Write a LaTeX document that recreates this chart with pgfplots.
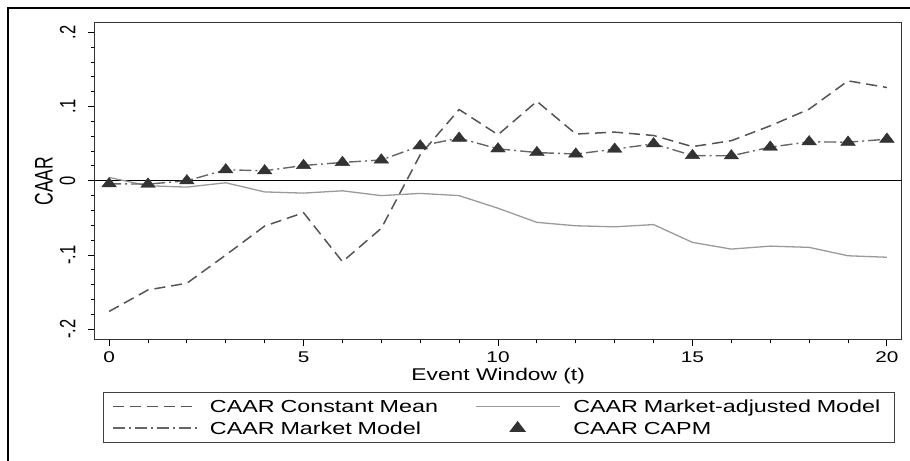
\documentclass[border=0pt]{standalone}
\usepackage{graphicx}
\usepackage{pgfplots}
\pgfplotsset{compat=1.18}
\usepackage{fontspec}
\setmainfont{Liberation Sans}[FakeStretch=1.34]
\newfontfamily\rotfont{Liberation Sans}
\newcommand\rs[1]{\scalebox{1}[1.34]{\rotfont #1}}
\definecolor{cmgray}{HTML}{555555}
\definecolor{mmgray}{HTML}{666666}
\definecolor{magray}{HTML}{9A9A9A}
\definecolor{trigray}{HTML}{333333}

\pgfplotsset{
  mylinelegend/.style={legend image code/.code={\draw[mark repeat=2,mark phase=2,##1] plot coordinates {(0bp,0bp)(42bp,0bp)(84bp,0bp)};}},
  mytrilegend/.style={legend image code/.code={\draw[##1] plot coordinates {(42bp,0bp)};}},
}

\pgfplotstableread{
t CM MM MA CAPM
0 -0.176 -0.004 0.0045 -0.004
1 -0.147 -0.0045 -0.0067 -0.0045
2 -0.138 0.000 -0.0085 0.000
3 -0.100 0.0148 -0.0027 0.0148
4 -0.061 0.0135 -0.015 0.0135
5 -0.043 0.0206 -0.0166 0.0206
6 -0.109 0.0247 -0.0135 0.0247
7 -0.064 0.028 -0.020 0.028
8 0.035 0.047 -0.017 0.047
9 0.096 0.0574 -0.020 0.0574
10 0.062 0.043 -0.037 0.043
11 0.107 0.038 -0.056 0.038
12 0.063 0.036 -0.0606 0.036
13 0.0655 0.0426 -0.062 0.0426
14 0.061 0.0498 -0.059 0.0498
15 0.046 0.034 -0.083 0.034
16 0.054 0.0336 -0.092 0.0336
17 0.074 0.0453 -0.088 0.0453
18 0.0965 0.0525 -0.0897 0.0525
19 0.1346 0.052 -0.101 0.052
20 0.1256 0.056 -0.103 0.056
}\datatable

\begin{document}
\fontsize{17bp}{20bp}\selectfont
\begin{tikzpicture}
\begin{axis}[
  scale only axis, width=807bp, height=316.3bp,
  at={(0,0)}, anchor=south west,
  xmin=-0.37, xmax=20.38, ymin=-0.2135, ymax=0.2125,
  xtick={0,5,10,15,20}, minor x tick num=4,
  ytick={-0.2,-0.1,0,0.1,0.2},
  yticklabels={\rs{-.2},\rs{-.1},\rs{0},\rs{.1},\rs{.2}},
  minor y tick num=4,
  xtick pos=lower, ytick pos=left,
  tick align=outside, major tick length=6.7bp, minor tick length=4bp,
  every tick/.style={black, line width=0.9bp},
  axis line style={black!80, line width=1bp},
  xticklabel style={/pgf/number format/assume math mode=true, font=\fontsize{15.5bp}{18bp}\selectfont, inner sep=0pt, anchor=north, yshift=-5.7bp},
  yticklabel style={font=\fontsize{16.5bp}{19bp}\selectfont, inner sep=0pt, xshift=-12.5bp, rotate=90, anchor=south},
  xlabel={Event Window (t)},
  ylabel={\scalebox{1}[1.45]{\rotfont\fontsize{17.5bp}{20bp}\selectfont CAAR}},
  every axis x label/.style={at={(axis description cs:0.5,-0.1287)}, anchor=base},
  every axis y label/.style={at={(axis description cs:-0.0628,0.5)}, rotate=90, anchor=center},
  legend columns=2,
  legend cell align=left,
  mylinelegend,
  legend style={at={(0.00991,-0.1657)}, anchor=north west, draw=black!75, line width=1bp,
    inner xsep=9.3bp, inner ysep=8bp, row sep=9.4bp,
    nodes={inner sep=0pt, text height=12.2bp, text depth=0pt, font=\fontsize{17.4bp}{20bp}\selectfont},
    /tikz/column 1/.style={column sep=12bp},
    /tikz/column 2/.style={column sep=12bp, text width=253bp},
    /tikz/column 3/.style={column sep=13bp},
    /tikz/column 4/.style={text width=312bp}},
]
\draw[black, line width=1bp] (axis cs:-0.37,0) -- (axis cs:20.38,0);
\addplot[cmgray, line width=1.5bp, dash pattern=on 11bp off 6bp] table[x=t,y=CM]{\datatable};
\addlegendentry{CAAR Constant Mean}
\addplot[magray, line width=1.3bp] table[x=t,y=MA]{\datatable};
\addlegendentry{CAAR Market-adjusted Model}
\addplot[mmgray, line width=1.4bp, dash pattern=on 12bp off 4bp on 2bp off 4bp] table[x=t,y=MM]{\datatable};
\addlegendentry{CAAR Market Model}
\addplot[only marks, mark=triangle*, mark size=6.3bp, mark options={fill=trigray, draw=trigray, xscale=1.34}, mytrilegend] table[x=t,y=CAPM]{\datatable};
\addlegendentry{CAAR CAPM}
\end{axis}
\draw[black, line width=1.6bp] (-86.7bp,-125bp) -- (-86.7bp,331.3bp) -- (820bp,331.3bp);
\pgfresetboundingbox
\useasboundingbox (-94.7bp,-121.7bp) rectangle (815.3bp,339.3bp);
\end{tikzpicture}
\end{document}
